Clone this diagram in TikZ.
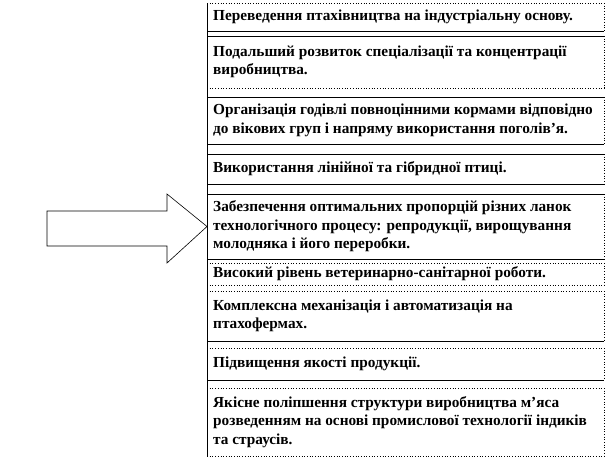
\documentclass[tikz,border=0pt]{standalone}
\usepackage{fontspec}
\setmainfont{Liberation Serif}
\usetikzlibrary{fit,calc}
\newcommand\mkbox[7]{% name, top, bottom, top style, bottom style, left style, text
  \node[fit={(207,#2) (604,#3)}, inner sep=0pt, outer sep=0pt] (#1) {};
  \draw[edge,#4] (#1.north west) -- (#1.north east);
  \draw[edge,#5] (#1.south west) -- (#1.south east);
  \draw[edge,#6] (#1.north west) -- (#1.south west);
  \draw[edge,dotted] (#1.north east) -- (#1.south east);
  \node[boxtext] (#1t) at ($(#1.west)+(6,0)$) {#7};
}
\begin{document}
\begin{tikzpicture}[x=1pt,y=-1pt,
  edge/.style={line width=0.7pt, black},
  boxtext/.style={anchor=west, align=left, inner sep=0pt,
    font=\bfseries\fontsize{15.3}{18.5}\selectfont}]
\useasboundingbox (0,0) rectangle (607,463);
\fill[white] (0,0) rectangle (607,463);
\mkbox{b1}{3}{31}{dotted}{solid}{solid}{Переведення птахівництва на індустріальну  основу.}
\mkbox{b2}{36}{88}{solid}{dotted}{solid}{Подальший розвиток спеціалізації  та концентрації\\виробництва.}
\mkbox{b3}{97}{144}{solid}{solid}{solid}{Організація  годівлі  повноцінними кормами відповідно\\до вікових груп і напряму використання поголів’я.}
\mkbox{b4}{154}{184}{solid}{solid}{solid}{Використання лінійної  та гібридної  птиці.}
\mkbox{b5}{194}{259}{solid}{solid}{solid}{Забезпечення оптимальних пропорцій різних ланок\\технологічного  процесу: репродукції,  вирощування\\молодняка і його переробки.}
\mkbox{b6}{263}{285}{dotted}{dotted}{solid}{Високий рівень ветеринарно-санітарної роботи.}
\mkbox{b7}{291}{341}{dotted}{solid}{solid}{Комплексна механізація  і  автоматизація на\\птахофермах.}
\mkbox{b8}{348}{380}{dotted}{solid}{solid}{Підвищення  якості  продукції.}
\mkbox{b9}{388}{456}{dotted}{dotted}{dotted}{Якісне  поліпшення  структури  виробництва м’яса\\розведенням на основі промислової технології  індиків\\та страусів.}
\draw[edge] (b1.north west) -- (b9.south west);
% arrow
\coordinate (tip) at (b5.west);
\draw[edge, line width=0.6pt, line join=miter]
  (47,211) -- (167,211) -- (167,194) -- (tip) -- (167,263) -- (167,246) -- (47,246) -- cycle;
\end{tikzpicture}
\end{document}
